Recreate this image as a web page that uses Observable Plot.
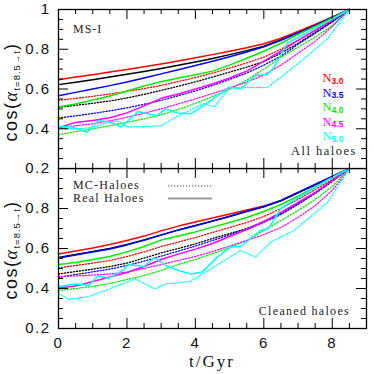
<!DOCTYPE html>
<html><head><meta charset="utf-8">
<script src="https://cdn.jsdelivr.net/npm/d3@7"></script>
<script src="https://cdn.jsdelivr.net/npm/@observablehq/plot@0.6"></script>
<style>
body{margin:0;background:#fff;}
#chart{width:374px;height:374px;overflow:hidden;background:#fff}
</style></head><body><div id="chart"></div>
<script>
// ---------- DATA ----------
const tGrid = [0,0.5,1,1.5,2,2.5,3,3.5,4,4.5,5,5.5,6,6.5,7,7.5,8,8.5];

// Top panel: all haloes (MS-I)
const allRealBlack = [.622,.634,.647,.66,.674,.688,.703,.719,.736,.754,.773,.793,.815,.848,.885,.922,.96,1];
const allRealN30   = [.647,.66,.672,.685,.698,.712,.726,.741,.757,.773,.79,.808,.828,.855,.89,.925,.962,1];
const allRealN35   = [.566,.583,.6,.617,.635,.655,.676,.697,.718,.74,.762,.786,.812,.845,.882,.92,.96,1];
const allRealN40   = [.51,.525,.545,.565,.59,.615,.637,.655,.672,.69,.72,.755,.79,.83,.875,.915,.958,1];
const allRealN45   = [.405,.432,.442,.455,.48,.515,.553,.575,.60,.625,.655,.69,.74,.79,.845,.895,.948,1];
const tAllRealN50  = [0,0.35,0.84,1.16,1.5,1.83,2.33,2.87,3.13,3.47,3.86,4.25,4.6,4.98,5.32,5.76,6.1,6.3,6.68,7.0,7.5,8.0,8.5];
const allRealN50   = [.41,.41,.383,.44,.435,.408,.487,.466,.50,.479,.475,.518,.56,.61,.60,.668,.673,.71,.83,.86,.905,.952,1];

const allMCBlack = [.508,.518,.528,.54,.555,.573,.593,.614,.636,.66,.685,.71,.738,.78,.83,.885,.94,1];
const allMCN30   = [.543,.553,.563,.575,.588,.602,.618,.637,.658,.68,.705,.732,.76,.80,.845,.895,.945,1];
const allMCN35   = [.454,.465,.477,.49,.505,.523,.543,.566,.59,.618,.648,.68,.72,.765,.825,.88,.937,1];
const allMCN40   = [.37,.385,.40,.415,.432,.45,.47,.497,.528,.562,.598,.645,.70,.76,.81,.86,.92,1];
const allMCN45   = [.405,.415,.425,.44,.458,.478,.50,.525,.55,.577,.605,.635,.67,.72,.78,.84,.915,1];
const tAllMCN50  = [0,0.5,1.0,1.4,1.73,2.0,2.5,3.0,3.5,4.25,4.55,5.0,5.5,6.1,6.8,7.3,7.86,8.5];
const allMCN50   = [.40,.40,.405,.43,.44,.41,.41,.415,.465,.527,.51,.607,.607,.607,.70,.77,.853,1];

// Bottom panel: cleaned haloes
const cleanRealBlack = [.555,.57,.585,.6,.62,.643,.668,.693,.715,.737,.76,.785,.808,.838,.878,.918,.958,1];
const cleanRealN30   = [.573,.588,.603,.62,.64,.662,.688,.712,.733,.752,.772,.792,.812,.84,.88,.92,.96,1];
const cleanRealN35   = [.552,.567,.582,.598,.618,.641,.667,.692,.714,.737,.761,.787,.81,.84,.88,.92,.96,1];
const cleanRealN40   = [.52,.53,.545,.56,.583,.61,.642,.663,.683,.707,.73,.755,.785,.82,.862,.908,.955,1];
const cleanRealN45   = [.403,.412,.435,.457,.48,.51,.545,.572,.597,.625,.66,.695,.735,.78,.83,.88,.94,1];
const tCleanRealN50  = [0,0.5,0.89,1.16,1.45,1.9,2.04,2.5,2.8,3.13,3.5,3.86,4.2,4.64,5.02,5.32,5.9,6.14,6.5,6.88,7.5,8.0,8.5];
const cleanRealN50   = [.41,.423,.415,.465,.45,.493,.52,.51,.555,.515,.49,.473,.482,.557,.607,.61,.69,.70,.80,.84,.905,.955,1];

const cleanMCBlack = [.473,.485,.497,.51,.527,.552,.578,.60,.623,.65,.675,.70,.735,.775,.825,.88,.94,1];
const cleanMCN30   = [.503,.515,.527,.54,.56,.583,.61,.632,.655,.68,.705,.73,.76,.80,.845,.895,.945,1];
const cleanMCN35   = [.455,.47,.483,.497,.515,.537,.562,.587,.612,.64,.668,.695,.73,.77,.82,.875,.935,1];
const cleanMCN40   = [.39,.40,.41,.425,.445,.465,.49,.52,.545,.575,.605,.64,.69,.74,.79,.845,.91,1];
const cleanMCN45   = [.46,.463,.467,.473,.482,.50,.52,.54,.56,.585,.612,.64,.67,.705,.755,.815,.89,1];
const tCleanMCN50  = [0,0.3,0.89,1.37,1.6,2.24,2.82,3.13,3.86,4.54,5.32,5.76,6.2,6.88,7.86,8.5];
const cleanMCN50   = [.375,.345,.36,.39,.405,.448,.398,.423,.435,.507,.59,.557,.632,.69,.83,1];

const legendNames  = ["3.0","3.5","4.0","4.5","5.0"];
const legendColors = ["#ff0000","#0000ff","#00ee00","#ff00ff","#00ffff"];
const xMajorTicks = [0,2,4,6,8];
const yMajorTicks = [0.2,0.4,0.6,0.8,1.0];
const topYLabels = [0.2,0.4,0.6,0.8,1.0];
const bottomYLabels = [0.2,0.4,0.6,0.8];

// ---------- BUILD ----------
const rows = (ts, vs) => ts.map((t, i) => ({t, v: vs[i]}));
const seriesTop = [
  {d: rows(tGrid, allMCBlack), c: "#000", mc: true},
  {d: rows(tGrid, allMCN30), c: legendColors[0], mc: true},
  {d: rows(tGrid, allMCN35), c: legendColors[1], mc: true},
  {d: rows(tGrid, allMCN40), c: legendColors[2], mc: true},
  {d: rows(tGrid, allMCN45), c: legendColors[3], mc: true},
  {d: rows(tAllMCN50, allMCN50), c: legendColors[4], mc: true},
  {d: rows(tGrid, allRealBlack), c: "#000", mc: false},
  {d: rows(tGrid, allRealN30), c: legendColors[0], mc: false},
  {d: rows(tGrid, allRealN35), c: legendColors[1], mc: false},
  {d: rows(tGrid, allRealN40), c: legendColors[2], mc: false},
  {d: rows(tGrid, allRealN45), c: legendColors[3], mc: false},
  {d: rows(tAllRealN50, allRealN50), c: legendColors[4], mc: false}
];
const seriesBottom = [
  {d: rows(tGrid, cleanMCBlack), c: "#000", mc: true},
  {d: rows(tGrid, cleanMCN30), c: legendColors[0], mc: true},
  {d: rows(tGrid, cleanMCN35), c: legendColors[1], mc: true},
  {d: rows(tGrid, cleanMCN40), c: legendColors[2], mc: true},
  {d: rows(tGrid, cleanMCN45), c: legendColors[3], mc: true},
  {d: rows(tCleanMCN50, cleanMCN50), c: legendColors[4], mc: true},
  {d: rows(tGrid, cleanRealN30), c: legendColors[0], mc: false},
  {d: rows(tGrid, cleanRealBlack), c: "#000", mc: false},
  {d: rows(tGrid, cleanRealN35), c: legendColors[1], mc: false},
  {d: rows(tGrid, cleanRealN40), c: legendColors[2], mc: false},
  {d: rows(tGrid, cleanRealN45), c: legendColors[3], mc: false},
  {d: rows(tCleanRealN50, cleanRealN50), c: legendColors[4], mc: false}
];

const W = 374, mL = 58, mR = 8;
const innerW = W - mL - mR;
const xMinor = d3.range(0, 9.01, 0.5).filter(v => !xMajorTicks.includes(v));
const yMinor = d3.range(0.2, 1.001, 0.05).map(v => +v.toFixed(2)).filter(v => !yMajorTicks.some(m => Math.abs(m - v) < 1e-6));
const fmt = d => d === 1 ? "1" : d.toFixed(1);

function panel({height, mt, mb, series, yLabels, showX, extraStyle}) {
  const innerH = height - mt - mb;
  const marks = [];
  for (const s of series) {
    marks.push(Plot.line(s.d, {x: "t", y: "v", stroke: s.c,
      strokeWidth: s.mc ? 1.3 : 1.5,
      strokeDasharray: s.mc ? "1.2,1.8" : null}));
  }
  const tk = {stroke: "#000", strokeWidth: 1};
  marks.push(Plot.tickY(yMinor, {...tk, insetRight: innerW - 5}));
  marks.push(Plot.tickY(yMajorTicks, {...tk, insetRight: innerW - 10}));
  marks.push(Plot.tickY(yMinor, {...tk, insetLeft: innerW - 5}));
  marks.push(Plot.tickY(yMajorTicks, {...tk, insetLeft: innerW - 10}));
  marks.push(Plot.tickX(xMinor, {...tk, insetTop: innerH - 5}));
  marks.push(Plot.tickX(xMajorTicks, {...tk, insetTop: innerH - 10}));
  marks.push(Plot.tickX(xMinor, {...tk, insetBottom: innerH - 5}));
  marks.push(Plot.tickX(xMajorTicks, {...tk, insetBottom: innerH - 10}));
  marks.push(Plot.frame({stroke: "#000", strokeWidth: 1.3}));
  marks.push(Plot.axisY({ticks: yLabels, tickSize: 0, tickPadding: 8, tickFormat: fmt, label: null, fill: "#111"}));
  if (showX) marks.push(Plot.axisX({ticks: xMajorTicks, tickSize: 0, tickPadding: 9, tickFormat: d => String(d), label: null, fill: "#111"}));
  return Plot.plot({
    width: W, height, marginLeft: mL, marginRight: mR, marginTop: mt, marginBottom: mb,
    x: {domain: [0, 9], axis: null},
    y: {domain: [0.2, 1], axis: null},
    style: "font-family: 'Liberation Sans', Arial, sans-serif; font-size: 15px; letter-spacing: 1.5px; background: white; display: block;" + (extraStyle || ""),
    marks
  });
}

const topSvg = panel({height: 168, mt: 9, mb: 0, series: seriesTop, yLabels: topYLabels, showX: false,
  extraStyle: "overflow: visible; position: relative; z-index: 2; background: transparent;"});
const bottomSvg = panel({height: 206, mt: 0, mb: 46, series: seriesBottom, yLabels: bottomYLabels, showX: true});
const chart = document.getElementById("chart");
chart.appendChild(topSvg);
chart.appendChild(bottomSvg);

function txt(svg, x, y, s, opts = {}) {
  return d3.select(svg).append("text")
    .attr("x", x).attr("y", y)
    .attr("text-anchor", opts.anchor || "start")
    .attr("font-family", opts.family || "'Liberation Serif', serif")
    .attr("font-size", opts.size || 12)
    .attr("fill", opts.fill || "#222")
    .style("letter-spacing", (opts.ls ?? 1) + "px")
    .text(s);
}
function yLabel(svg, cy) {
  const t = d3.select(svg).append("text")
    .attr("transform", `translate(17,${cy}) rotate(-90)`)
    .attr("text-anchor", "middle")
    .attr("font-family", "'Liberation Sans', Arial, sans-serif")
    .attr("font-size", 18).attr("fill", "#111")
    .style("letter-spacing", "1.5px");
  t.append("tspan").text("cos(");
  t.append("tspan").attr("font-family", "'Liberation Serif', serif").attr("font-style", "italic").text("α");
  t.append("tspan").attr("font-size", 9.5).attr("dy", 3).style("letter-spacing", "1px").text("t=8.5→t");
  t.append("tspan").attr("dy", -3).text(")");
}

// Top annotations
yLabel(topSvg, 92);
txt(topSvg, 73, 33, "MS-I", {size: 12, ls: 1});
legendNames.forEach((n, i) => {
  const t = d3.select(topSvg).append("text")
    .attr("x", 333).attr("y", 82 + i * 14.5)
    .attr("fill", legendColors[i])
    .attr("font-family", "'Liberation Serif', serif").attr("font-size", 12.5)
    .style("letter-spacing", "0px");
  t.append("tspan").text("N");
  t.append("tspan").attr("font-family", "'Liberation Sans', Arial, sans-serif")
    .attr("font-size", 8.5).attr("font-weight", "bold").attr("dy", 1.5).text(n);
});
txt(topSvg, 357, 155, "All haloes", {anchor: "end", size: 12.5, ls: 1.5});

// Bottom annotations
yLabel(bottomSvg, 250 - 168);
txt(bottomSvg, 73, 20.5, "MC-Haloes", {size: 12, ls: 1.2});
txt(bottomSvg, 73, 33.5, "Real Haloes", {size: 12, ls: 1.2});
d3.select(bottomSvg).append("line").attr("x1", 168).attr("x2", 212).attr("y1", 18).attr("y2", 18)
  .attr("stroke", "#444").attr("stroke-width", 1.2).attr("stroke-dasharray", "1.2,1.8");
d3.select(bottomSvg).append("line").attr("x1", 168).attr("x2", 212).attr("y1", 30.5).attr("y2", 30.5)
  .attr("stroke", "#999").attr("stroke-width", 2.2);
txt(bottomSvg, 350, 147, "Cleaned haloes", {anchor: "end", size: 12, ls: 1.3});
txt(bottomSvg, 212, 199, "t/Gyr", {anchor: "middle", size: 17, ls: 2, fill: "#111"});
</script></body></html>
